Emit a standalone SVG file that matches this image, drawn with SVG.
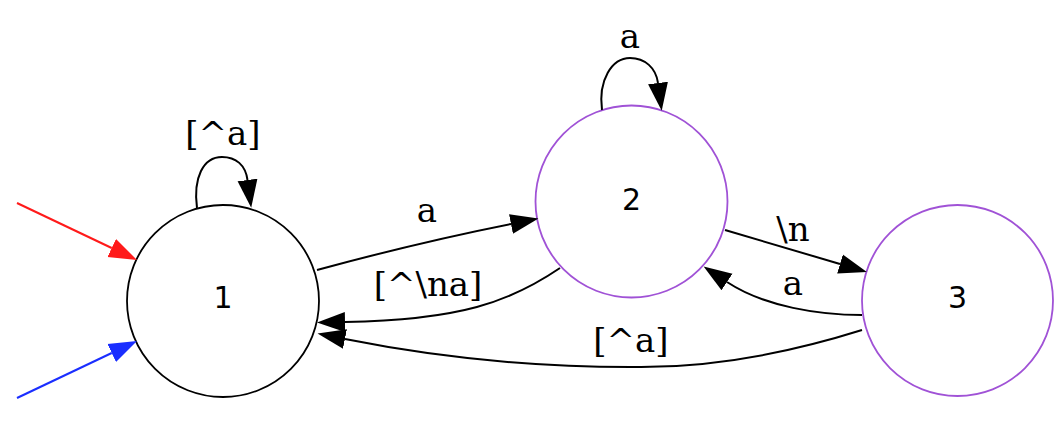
<svg xmlns="http://www.w3.org/2000/svg" width="1064" height="434" viewBox="0 0 1064 434">
<style>
.node{fill:#fff;stroke-width:1.8}
.n1{stroke:#000}
.acc{stroke:#a052d6}
.nl{font-family:"DejaVu Sans",sans-serif;font-size:30px;text-anchor:middle;fill:#000}
.el{font-family:"DejaVu Serif",serif;font-size:34px;text-anchor:middle;fill:#000}
.e{fill:none;stroke:#000;stroke-width:2}
</style>
<defs>
<marker id="ah" markerUnits="userSpaceOnUse" markerWidth="30" markerHeight="24" viewBox="0 -12 30 24" refX="0" refY="0" orient="auto">
<path d="M0,-10 L28,0 L0,10 z" fill="#000"/>
</marker>
<marker id="ahr" markerUnits="userSpaceOnUse" markerWidth="30" markerHeight="24" viewBox="0 -12 30 24" refX="0" refY="0" orient="auto">
<path d="M0,-10 L28,0 L0,10 z" fill="#ff1a1a"/>
</marker>
<marker id="ahb" markerUnits="userSpaceOnUse" markerWidth="30" markerHeight="24" viewBox="0 -12 30 24" refX="0" refY="0" orient="auto">
<path d="M0,-10 L28,0 L0,10 z" fill="#1a2eff"/>
</marker>
</defs>
<rect width="1064" height="434" fill="#fff"/>
<g id="n1"><circle class="node n1" cx="223" cy="301" r="96"/><text class="nl" x="223" y="308">1</text></g>
<g id="n2"><circle class="node acc" cx="631.5" cy="201.5" r="96"/><text class="nl" x="631.5" y="210">2</text></g>
<g id="n3"><circle class="node acc" cx="957.5" cy="300.5" r="95.5"/><text class="nl" x="957.5" y="308">3</text></g>
<g id="connectors">
<path d="M17,203 L111.7,248" fill="none" stroke="#ff1a1a" stroke-width="2" marker-end="url(#ahr)"/>
<path d="M17,398 L111.7,353" fill="none" stroke="#1a2eff" stroke-width="2" marker-end="url(#ahb)"/>
<path class="e" d="M197,208 C193,178 203,157 222,157 C236,157 245.5,165 247.5,180" marker-end="url(#ah)"/>
<text class="el" x="223" y="145">[^a]</text>
<path class="e" d="M602,110 C598,80 612,58 630,58 C645,58 656,68 658,83" marker-end="url(#ah)"/>
<text class="el" x="630" y="48">a</text>
<path class="e" d="M317,270 Q420,242 511,224" marker-end="url(#ah)"/>
<text class="el" x="427" y="222">a</text>
<path class="e" d="M560,268 C510,302 460,320 345,322" marker-end="url(#ah)"/>
<text class="el" x="428" y="296">[^\na]</text>
<path class="e" d="M725,230 L840,264" marker-end="url(#ah)"/>
<text class="el" x="793" y="241">\n</text>
<path class="e" d="M862,315 C820,315 765,307 727,282" marker-end="url(#ah)"/>
<text class="el" x="793" y="295">a</text>
<path class="e" d="M862,330 C760,362 680,368 630,367 C540,367 440,358 345,339" marker-end="url(#ah)"/>
<text class="el" x="631" y="352">[^a]</text>
</g>
</svg>
